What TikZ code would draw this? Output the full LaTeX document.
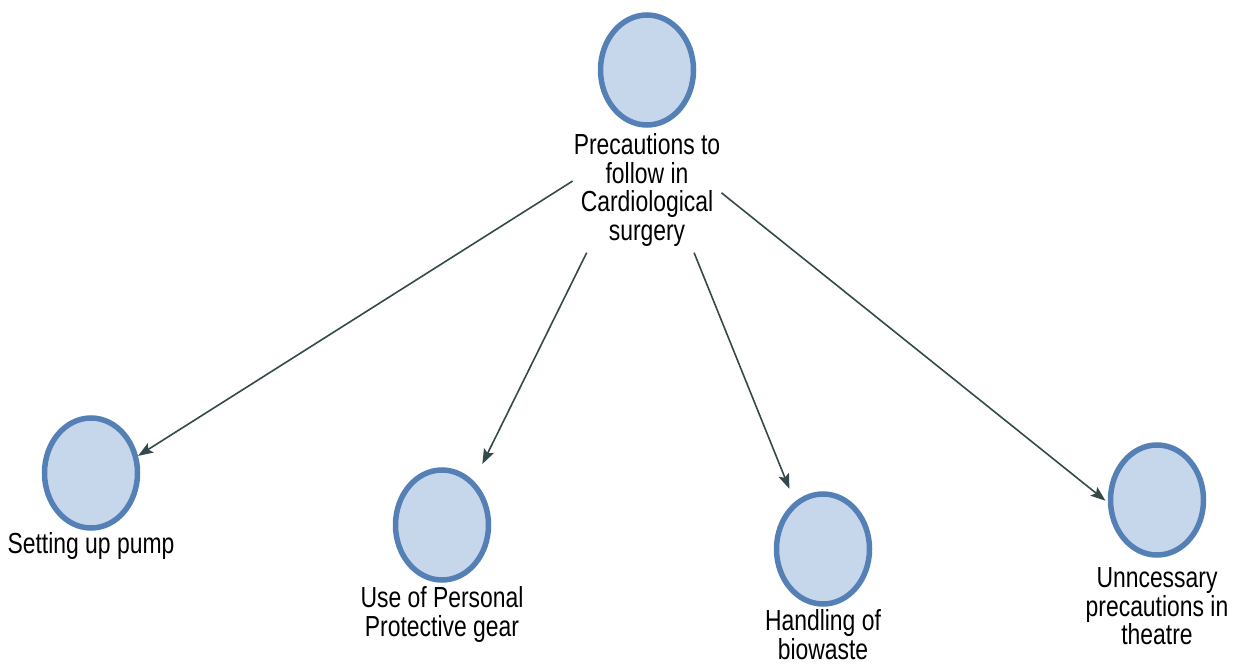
\documentclass[tikz,border=0pt]{standalone}
\usepackage{fontspec}
\newfontfamily\diagfont[FakeStretch=0.79]{Liberation Sans}
\usepackage{xcolor}
\usepackage{tikz}
\usetikzlibrary{arrows.meta,positioning,shapes.geometric}
\definecolor{bubblefill}{HTML}{C6D6EB}
\definecolor{bubbleedge}{HTML}{5580B6}
\definecolor{linkgray}{HTML}{34494A}

\begin{document}
\begin{tikzpicture}[x=1pt, y=-1pt,
    bubble/.style={ellipse, draw=bubbleedge, fill=bubblefill, line width=5.5pt, minimum width=93pt, minimum height=110pt, inner sep=0pt},
    lbl/.style={align=center, inner xsep=1pt, inner ysep=6pt, text=black, font=\diagfont\fontsize{29}{28.5}\selectfont},
    link/.style={draw=linkgray, line width=1.6pt, -{Stealth[length=15pt, width=11pt, inset=3pt]}}
]
    \useasboundingbox (0,0) rectangle (1239,666);

    % Root topic
    \node[bubble] (root) at (647,70) {};
    \node[lbl, below=0pt of root] (prec) {Precautions to\\follow in\\Cardiological\\surgery};

    % Sub topics
    \node[bubble] (pump) at (91,473) {};
    \node[lbl, below=-4pt of pump] (pumplbl) {Setting up pump};

    \node[bubble] (ppe) at (442,525) {};
    \node[lbl, below=-2pt of ppe] (ppelbl) {Use of Personal\\Protective gear};

    \node[bubble] (bio) at (823,549) {};
    \node[lbl, below=-3pt of bio, font=\diagfont\fontsize{29}{27}\selectfont] (biolbl) {Handling of\\biowaste};

    \node[bubble] (unn) at (1157,500) {};
    \node[lbl, below=4pt of unn] (unnlbl) {Unncessary\\precautions in\\theatre};

    % Links
    \draw[link] (prec.173) -- (pump.20);
    \draw[link, shorten >=19pt] (prec.226) -- (ppe.54);
    \draw[link, shorten >=14pt] (prec.-53) -- (bio.121);
    \draw[link, shorten >=3pt] (prec.-2) -- (unn.183);
\end{tikzpicture}
\end{document}
